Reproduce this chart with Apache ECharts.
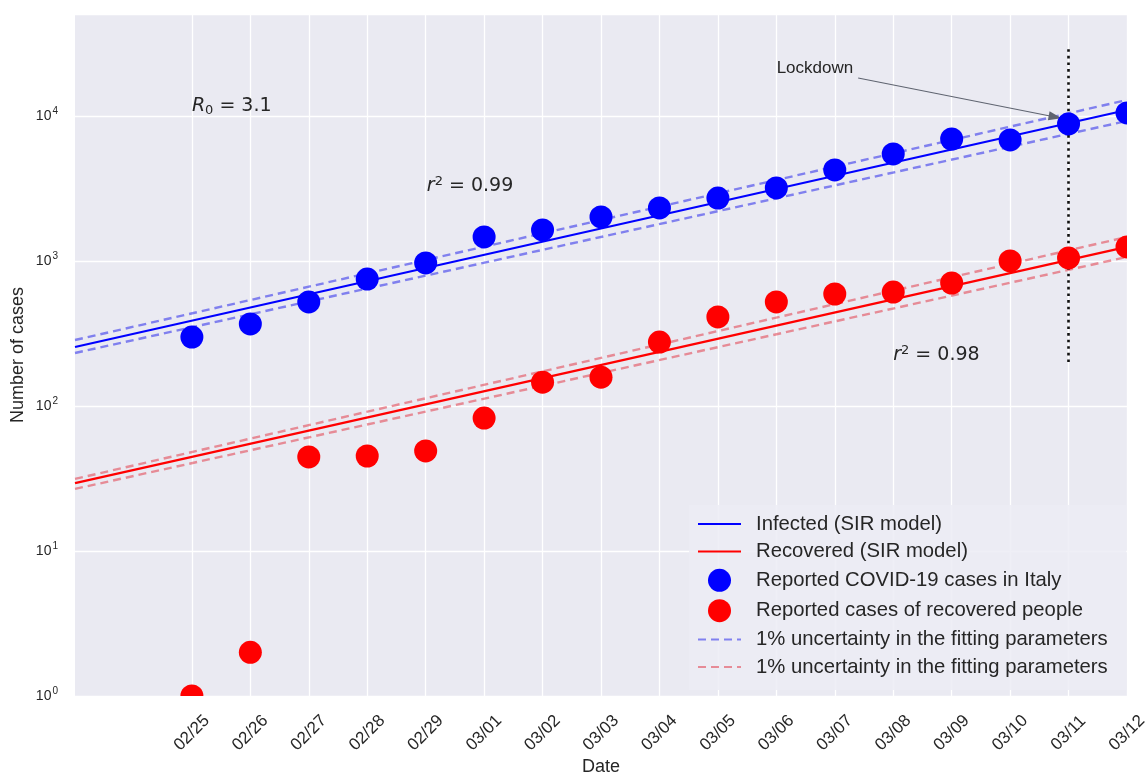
<!DOCTYPE html>
<html>
<head>
<meta charset="utf-8">
<script src="https://cdn.jsdelivr.net/npm/echarts@6/dist/echarts.min.js"></script>
<style>html,body{margin:0;padding:0;background:#fff;}#c{width:1148px;height:776px;}</style>
</head>
<body>
<div id="c"></div>
<script>
// ---- data ----
const dates = ['02/25','02/26','02/27','02/28','02/29','03/01','03/02','03/03','03/04','03/05','03/06','03/07','03/08','03/09','03/10','03/11','03/12'];
const padCategories = ['pad-2','pad-1'];
const infected = [299,368,522,751,969,1465,1636,2011,2320,2718,3187,4244,5469,6938,6830,8810,10490];
const recovered = [1,2,44.5,45.2,49,82.6,146,158,276,411,522,592,611,705,1000,1050,1250];
const fitX = [-2, 16];
const infectedFit = [255, 11000];
const infectedFitUpper = [285, 12890];
const infectedFitLower = [232, 9240];
const recoveredFit = [29.4, 1250];
const recoveredFitUpper = [31.4, 1465];
const recoveredFitLower = [26.8, 1066];
const lockdownIndex = 15;
const lockdownSpan = [201, 29440];
const arrowFrom = [11.4, 18280];
const arrowTo = [14.77, 9840];

const N1 = 'Infected (SIR model)';
const N2 = 'Recovered (SIR model)';
const N3 = 'Reported COVID-19 cases in Italy';
const N4 = 'Reported cases of recovered people';
const N5 = '1% uncertainty in the fitting parameters';
const N6 = '1% uncertainty in the fitting parameters ';

const txt = '#262626';
const sans = 'Liberation Sans, Arial, sans-serif';
const math = 'DejaVu Sans, sans-serif';

function pts(xs, ys){ return xs.map((x,i)=>[x, ys[i]]); }

const chart = echarts.init(document.getElementById('c'), null, {renderer:'canvas'});

const lineSeries = (name, ys, color, dashed, width) => ({
  name, type:'line', xAxisIndex:0, yAxisIndex:0,
  data: pts(fitX, ys), symbol:'none', showSymbol:false, silent:true, animation:false,
  lineStyle:{color, width, type: dashed ? [8,5] : 'solid'},
  itemStyle:{color}
});

const option = {
  animation:false,
  backgroundColor:'#ffffff',
  grid:{left:75, right:21, top:14, bottom:80, show:true, backgroundColor:'#eaeaf2', borderWidth:0,
        containLabel:false, outerBoundsMode:'none'},
  xAxis:[
    {type:'value', min:-2, max:16, show:false},
    {type:'category', data: padCategories.concat(dates), boundaryGap:false, position:'bottom',
     axisLine:{show:false}, axisTick:{show:false},
     axisLabel:{interval:0, rotate:45, align:'center', verticalAlign:'middle', margin:37,
       fontSize:17, color:txt, fontFamily:sans,
       formatter:(v)=> v.indexOf('pad')===0 ? '' : v},
     splitLine:{show:true, interval:(i)=> i>=2, lineStyle:{color:'#ffffff', width:1.3}},
     name:'Date', nameLocation:'middle', nameGap:62, nameMoveOverlap:false,
     nameTextStyle:{fontSize:18, color:txt, fontFamily:sans}}
  ],
  yAxis:{type:'log', logBase:10, min:1, max:50500,
    axisLine:{show:false}, axisTick:{show:false},
    splitLine:{show:true, lineStyle:{color:'#ffffff', width:1.3}},
    axisLabel:{margin:17, color:txt, fontFamily:sans,
      formatter:(v)=>{
        const e = Math.log10(v);
        if (Math.abs(e-Math.round(e))>1e-6) return '';
        return '{b|10}{s|'+Math.round(e)+'}';
      },
      rich:{b:{fontSize:14, color:txt, fontFamily:sans}, s:{fontSize:10, color:txt, fontFamily:sans, padding:[0,0,10,1]}}
    },
    name:'Number of cases', nameLocation:'middle', nameGap:48, nameRotate:90, nameMoveOverlap:false,
    nameTextStyle:{fontSize:18, color:txt, fontFamily:sans}
  },
  legend:{
    orient:'vertical', left:689, top:505, padding:[9,13,13,8],
    itemWidth:43, itemHeight:23, itemGap:7.4,
    backgroundColor:'rgba(236,236,244,0.85)', borderWidth:0,
    textStyle:{fontSize:20.3, color:txt, fontFamily:sans, padding:[0,0,0,10]},
    selectedMode:false,
    data:[
      {name:N1, itemStyle:{opacity:0}}, {name:N2, itemStyle:{opacity:0}},
      {name:N3, icon:'circle'}, {name:N4, icon:'circle'},
      {name:N5, itemStyle:{opacity:0}}, {name:N6, itemStyle:{opacity:0}}
    ]
  },
  series:[
    lineSeries(N1, infectedFit, '#0000ff', false, 2.2),
    lineSeries(N2, recoveredFit, '#ff0000', false, 2.2),
    lineSeries(N5, infectedFitUpper, 'rgba(40,40,235,0.55)', true, 2.4),
    lineSeries(N5, infectedFitLower, 'rgba(40,40,235,0.55)', true, 2.4),
    lineSeries(N6, recoveredFitUpper, 'rgba(225,60,75,0.55)', true, 2.4),
    lineSeries(N6, recoveredFitLower, 'rgba(225,60,75,0.55)', true, 2.4),
    {name:N3, type:'scatter', xAxisIndex:0, yAxisIndex:0, symbolSize:23, clip:true,
     data: infected.map((v,i)=>[i, v]), itemStyle:{color:'#0000ff', opacity:1}, z:5},
    {name:N4, type:'scatter', xAxisIndex:0, yAxisIndex:0, symbolSize:23, clip:true,
     data: recovered.map((v,i)=>[i, v]), itemStyle:{color:'#ff0000', opacity:1}, z:5},
    {name:'annotations', type:'line', xAxisIndex:0, yAxisIndex:0, data:[], silent:true,
     markLine:{silent:true, animation:false, label:{show:false},
       data:[
         [{coord:[lockdownIndex, lockdownSpan[0]], symbol:'none', lineStyle:{color:'#111', width:2.6, type:[2.6,4]}},
          {coord:[lockdownIndex, lockdownSpan[1]], symbol:'none'}],
         [{coord:arrowFrom, symbol:'none', lineStyle:{color:'#5f6470', width:1.1, type:'solid'}},
          {coord:arrowTo, symbol:'triangle', symbolSize:[9,13], itemStyle:{color:'#5a6478'}}]
       ]}, z:6}
  ]
};
chart.setOption(option);

// text annotations placed in data coordinates
function P(x, y){ return chart.convertToPixel({xAxisIndex:0, yAxisIndex:0}, [x, y]); }
const pR0 = P(0, 12100), pR99 = P(4.02, 3400), pR98 = P(12.0, 232), pLock = P(10.66, 22100);
// plot-area corners (to clip markers that straddle the frame, as matplotlib does)
const cornerLB = P(-2, 1), cornerRT = P(16, 50500);
const W = chart.getWidth();
chart.setOption({graphic:[
  {type:'rect', z:100, silent:true, shape:{x:cornerRT[0], y:0, width:W-cornerRT[0], height:cornerLB[1]}, style:{fill:'#ffffff'}},
  {type:'rect', z:100, silent:true, shape:{x:cornerLB[0], y:cornerLB[1], width:W-cornerLB[0], height:12}, style:{fill:'#ffffff'}},
  {type:'text', left:pR0[0], top:pR0[1]-7, z:10, style:{
    text:'{i|R}{sub|0}{n| = 3.1}', fill:txt,
    rich:{i:{fontSize:19, fontStyle:'italic', fontFamily:math, fill:txt},
          sub:{fontSize:13, fontFamily:math, fill:txt, padding:[8,0,0,0]},
          n:{fontSize:19, fontFamily:math, fill:txt}}}},
  {type:'text', left:pR99[0], top:pR99[1]-9, z:10, style:{
    text:'{i|r}{sup|2}{n| = 0.99}', fill:txt,
    rich:{i:{fontSize:19, fontStyle:'italic', fontFamily:math, fill:txt},
          sup:{fontSize:13, fontFamily:math, fill:txt, padding:[0,0,9,0]},
          n:{fontSize:19, fontFamily:math, fill:txt}}}},
  {type:'text', left:pR98[0], top:pR98[1]-9, z:10, style:{
    text:'{i|r}{sup|2}{n| = 0.98}', fill:txt,
    rich:{i:{fontSize:19, fontStyle:'italic', fontFamily:math, fill:txt},
          sup:{fontSize:13, fontFamily:math, fill:txt, padding:[0,0,9,0]},
          n:{fontSize:19, fontFamily:math, fill:txt}}}},
  {type:'text', x:pLock[0], y:pLock[1]+2, z:10, style:{
    text:'Lockdown', fontSize:17, fontFamily:sans, fill:txt, align:'center', verticalAlign:'middle'}}
]});
</script>
</body>
</html>
